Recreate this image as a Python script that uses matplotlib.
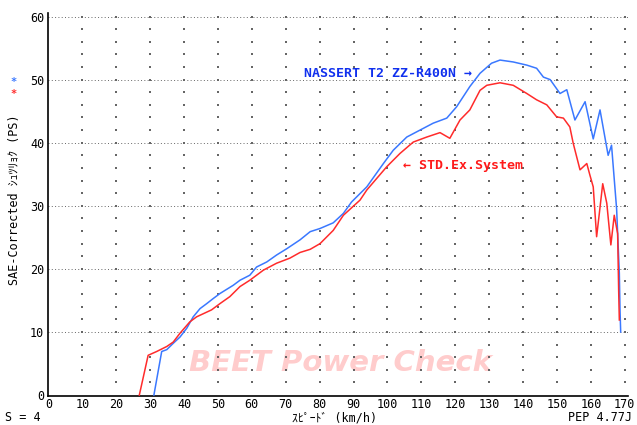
import numpy as np
import matplotlib
matplotlib.use("Agg")
import matplotlib.pyplot as plt

# speed (km/h) vs SAE corrected power (PS)
nassert_x = [31.1, 33.4, 34.9, 36.8, 38.8, 40.8, 42.7, 44.7, 46.7, 48.6, 50.6, 54.5, 56.5,
             59.4, 61.4, 64.4, 67.3, 70.3, 74.2, 77.2, 80.1, 84.0, 87.0, 89.4, 93.9, 98.8,
             101.7, 105.7, 109.6, 113.5, 117.5, 120.4, 124.3, 127.3, 130.7, 133.2, 137.1,
             141.1, 144.0, 146.0, 148.0, 150.9, 152.9, 155.3, 158.3, 160.7, 162.7, 165.1,
             166.1, 167.6, 168.4, 168.6, 168.8]
nassert_y = [0, 6.9, 7.2, 8.2, 9.2, 10.6, 12.4, 13.7, 14.5, 15.3, 16.1, 17.4, 18.2,
             19.0, 20.3, 21.1, 22.2, 23.2, 24.6, 25.9, 26.4, 27.3, 28.8, 30.6, 33.0, 36.7,
             38.8, 40.9, 42.0, 43.1, 43.9, 45.7, 48.9, 51.0, 52.6, 53.1, 52.8,
             52.3, 51.8, 50.4, 50.0, 47.8, 48.4, 43.6, 46.5, 40.6, 45.2, 38.0,
             39.6, 29.5, 19.3, 13.5, 10.0]

std_x = [26.8, 29.4, 31.9, 34.9, 36.8, 38.8, 41.7, 43.7, 45.7, 48.1, 50.6, 53.5, 56.5,
         59.4, 63.4, 67.3, 71.2, 74.2, 77.2, 80.1, 84.0, 87.0, 91.9, 93.9, 99.8, 103.7,
         107.6, 111.6, 115.5, 118.4, 121.4, 124.3, 127.3, 129.3, 133.2, 137.1, 141.1,
         144.0, 147.0, 149.9, 151.9, 153.8, 154.8, 156.8, 158.8, 159.7, 160.7, 161.7,
         162.5, 163.5, 164.7, 165.9, 166.9, 167.9, 168.2, 168.4]
std_y = [0, 6.3, 6.9, 7.7, 8.4, 9.8, 11.6, 12.4, 12.9, 13.5, 14.5, 15.6, 17.2,
         18.2, 19.8, 20.9, 21.7, 22.6, 23.1, 24.0, 26.1, 28.5, 30.9, 32.5, 36.2, 38.3,
         40.1, 40.9, 41.6, 40.7, 43.6, 45.2, 48.3, 49.1, 49.5, 49.1, 47.8,
         46.8, 46.0, 44.1, 43.9, 42.5, 39.9, 35.7, 36.7, 34.9, 33.0, 25.1,
         28.8, 33.5, 30.4, 23.8, 28.5, 25.6, 16.6, 11.9]

x_ticks = list(range(0, 171, 10))
y_ticks = list(range(0, 61, 10))

mono = ["DejaVu Sans Mono", "Noto Sans CJK JP"]

fig = plt.figure(figsize=(6.37, 4.25), dpi=100)
ax = fig.add_axes([0.0761, 0.0675, 0.910, 0.901])
ax.set_xlim(0, 171)
ax.set_ylim(-0.2, 60.5)

# dotted grid: dense rows every 10 PS, sparse dots every 10 km/h x 2 PS
for yy in y_ticks[1:]:
    ax.axhline(yy, color="#666666", lw=0.7, ls=(0, (1, 2.4)), zorder=1)
gx, gy = np.meshgrid(np.arange(10, 171, 10), np.arange(2, 61, 2))
ax.scatter(gx.ravel(), gy.ravel(), s=1.0, marker="s", color="#666666", lw=0, zorder=1)

ax.text(86, 5.1, "BEET Power Check", fontsize=21, fontweight="bold", style="italic",
        color="#ffcccc", ha="center", va="center", zorder=0)

ax.plot(nassert_x, nassert_y, color="#3a78ff", lw=1.1, zorder=3)
ax.plot(std_x, std_y, color="#ff2b2b", lw=1.1, zorder=4)

ax.text(75.4, 50.9, "NASSERT T2 ZZ-R400N →", color="#1030ee", fontsize=9.5,
        fontweight="bold", family=mono, va="center", ha="left")
ax.text(104.6, 36.4, "← STD.Ex.System", color="#ff1a1a", fontsize=9.5,
        fontweight="bold", family=mono, va="center", ha="left")

for s in ["top", "right"]:
    ax.spines[s].set_visible(False)
ax.spines["left"].set_linewidth(1.2)
ax.spines["bottom"].set_linewidth(1.2)
ax.set_xticks(x_ticks)
ax.set_yticks(y_ticks)
ax.tick_params(length=0, labelsize=8.5)
ax.tick_params(axis="x", pad=1)
ax.tick_params(axis="y", pad=3)
for lb in ax.get_xticklabels() + ax.get_yticklabels():
    lb.set_family(mono)

fig.text(0.022, 0.53, "SAE-Corrected ｼｭﾂﾘｮｸ (PS)", rotation=90, ha="center", va="center",
         fontsize=8.5, family=mono)
fig.text(0.021, 0.806, "*", color="#3a78ff", fontsize=7.5, ha="center", va="center",
         family=mono, fontweight="bold")
fig.text(0.021, 0.780, "*", color="#ff2b2b", fontsize=7.5, ha="center", va="center",
         family=mono, fontweight="bold")
fig.text(0.008, 0.0165, "S = 4", fontsize=8.5, family=mono, ha="left", va="center")
fig.text(0.526, 0.0165, "ｽﾋﾟｰﾄﾞ (km/h)", fontsize=8.5, family=mono, ha="center", va="center")
fig.text(0.993, 0.0165, "PEP 4.77J", fontsize=8.5, family=mono, ha="right", va="center")

fig.savefig("out.png", dpi=100)
